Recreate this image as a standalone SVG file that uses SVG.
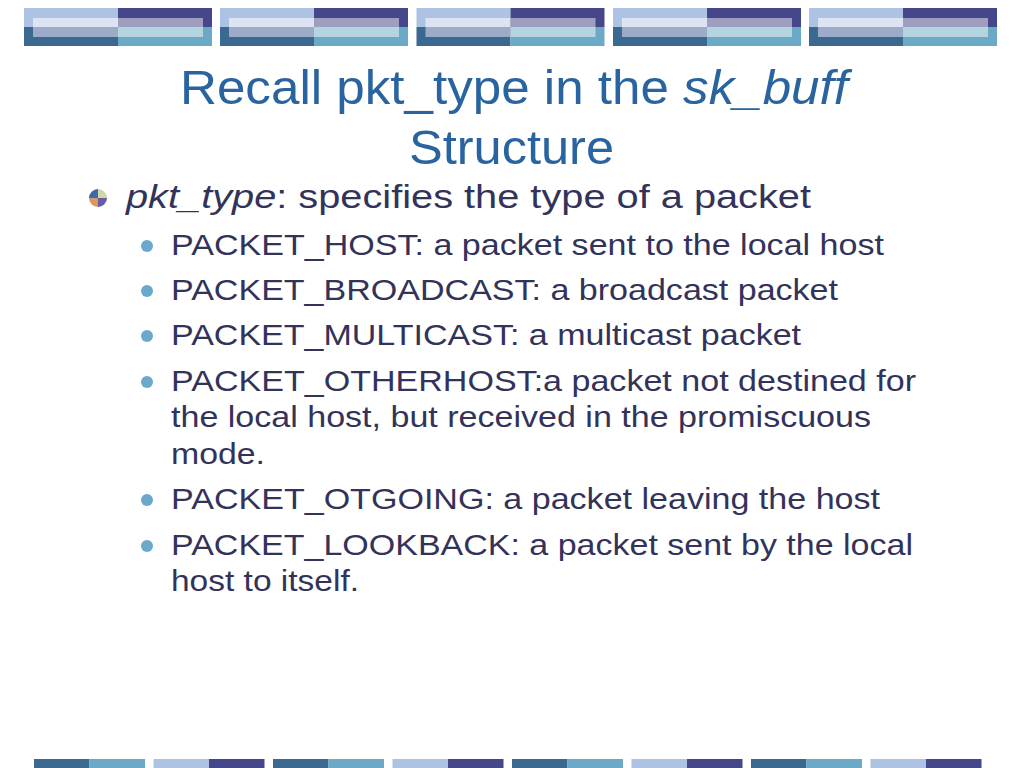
<svg xmlns="http://www.w3.org/2000/svg" width="1024" height="768" viewBox="0 0 1024 768">
<defs>
<style>
.ttl{font-family:"Liberation Sans",Arial,sans-serif;font-size:48px;fill:#2A64A0}
.l1{font-family:"Liberation Sans",Arial,sans-serif;font-size:34px;fill:#33335A}
.l2{font-family:"Liberation Sans",Arial,sans-serif;font-size:30px;fill:#33335A}
.sb{fill:#6AA8CC}
</style>
<g id="band">
<rect x="0" y="8" width="94" height="19" fill="#AEC2E4"/>
<rect x="94" y="8" width="94" height="19" fill="#46468A"/>
<rect x="0" y="27" width="94" height="19" fill="#3A6890"/>
<rect x="94" y="27" width="94" height="19" fill="#6AAAC6"/>
<rect x="9" y="18" width="85" height="9" fill="#DCE4F4"/>
<rect x="94" y="18" width="85" height="9" fill="#A09EC0"/>
<rect x="9" y="27" width="85" height="10" fill="#9CACC8"/>
<rect x="94" y="27" width="85" height="10" fill="#B4D4E0"/>
</g>
<g id="fa"><rect x="0" y="759" width="55.5" height="9" fill="#3A6890"/><rect x="55.5" y="759" width="55.5" height="9" fill="#6AAAC6"/></g>
<g id="fb"><rect x="0" y="759" width="55.5" height="9" fill="#AEC2E4"/><rect x="55.5" y="759" width="55.5" height="9" fill="#46468A"/></g>
</defs>
<rect width="1024" height="768" fill="#FFFFFF"/>
<g id="header">
<use href="#band" x="24"/>
<use href="#band" x="220"/>
<use href="#band" x="416.5"/>
<use href="#band" x="613"/>
<use href="#band" x="809"/>
</g>
<g id="footer">
<use href="#fa" x="34"/>
<use href="#fb" x="153.5"/>
<use href="#fa" x="273"/>
<use href="#fb" x="392.5"/>
<use href="#fa" x="512"/>
<use href="#fb" x="631.5"/>
<use href="#fa" x="751"/>
<use href="#fb" x="870.5"/>
</g>
<g id="title">
<text class="ttl" x="180" y="104" textLength="668" lengthAdjust="spacingAndGlyphs">Recall pkt_type in the <tspan font-style="italic">sk_buff</tspan></text>
<text class="ttl" x="409" y="164" textLength="205" lengthAdjust="spacingAndGlyphs">Structure</text>
</g>
<g id="bullet-main">
<path d="M98,198 L98,189 A9,9 0 0 0 89,198 Z" fill="#3A6AA8"/>
<path d="M98,198 L107,198 A9,9 0 0 0 98,189 Z" fill="#D0D8A8"/>
<path d="M98,198 L89,198 A9,9 0 0 0 98,207 Z" fill="#D89860"/>
<path d="M98,198 L98,207 A9,9 0 0 0 107,198 Z" fill="#6A5AA8"/>
<text class="l1" x="126" y="208" textLength="685" lengthAdjust="spacingAndGlyphs"><tspan font-style="italic">pkt_type</tspan>: specifies the type of a packet</text>
</g>
<g id="items">
<circle class="sb" cx="147" cy="246" r="6"/>
<text class="l2" x="171" y="255" textLength="713" lengthAdjust="spacingAndGlyphs">PACKET_HOST: a packet sent to the local host</text>
<circle class="sb" cx="147" cy="291" r="6"/>
<text class="l2" x="171" y="300" textLength="667" lengthAdjust="spacingAndGlyphs">PACKET_BROADCAST: a broadcast packet</text>
<circle class="sb" cx="147" cy="336" r="6"/>
<text class="l2" x="171" y="345" textLength="630" lengthAdjust="spacingAndGlyphs">PACKET_MULTICAST: a multicast packet</text>
<circle class="sb" cx="147" cy="382" r="6"/>
<text class="l2" x="171" y="391" textLength="745" lengthAdjust="spacingAndGlyphs">PACKET_OTHERHOST:a packet not destined for</text>
<text class="l2" x="171" y="427" textLength="700" lengthAdjust="spacingAndGlyphs">the local host, but received in the promiscuous</text>
<text class="l2" x="171" y="464" textLength="94" lengthAdjust="spacingAndGlyphs">mode.</text>
<circle class="sb" cx="147" cy="500" r="6"/>
<text class="l2" x="171" y="509" textLength="709" lengthAdjust="spacingAndGlyphs">PACKET_OTGOING: a packet leaving the host</text>
<circle class="sb" cx="147" cy="546" r="6"/>
<text class="l2" x="171" y="555" textLength="742" lengthAdjust="spacingAndGlyphs">PACKET_LOOKBACK: a packet sent by the local</text>
<text class="l2" x="171" y="591" textLength="188" lengthAdjust="spacingAndGlyphs">host to itself.</text>
</g>
</svg>
